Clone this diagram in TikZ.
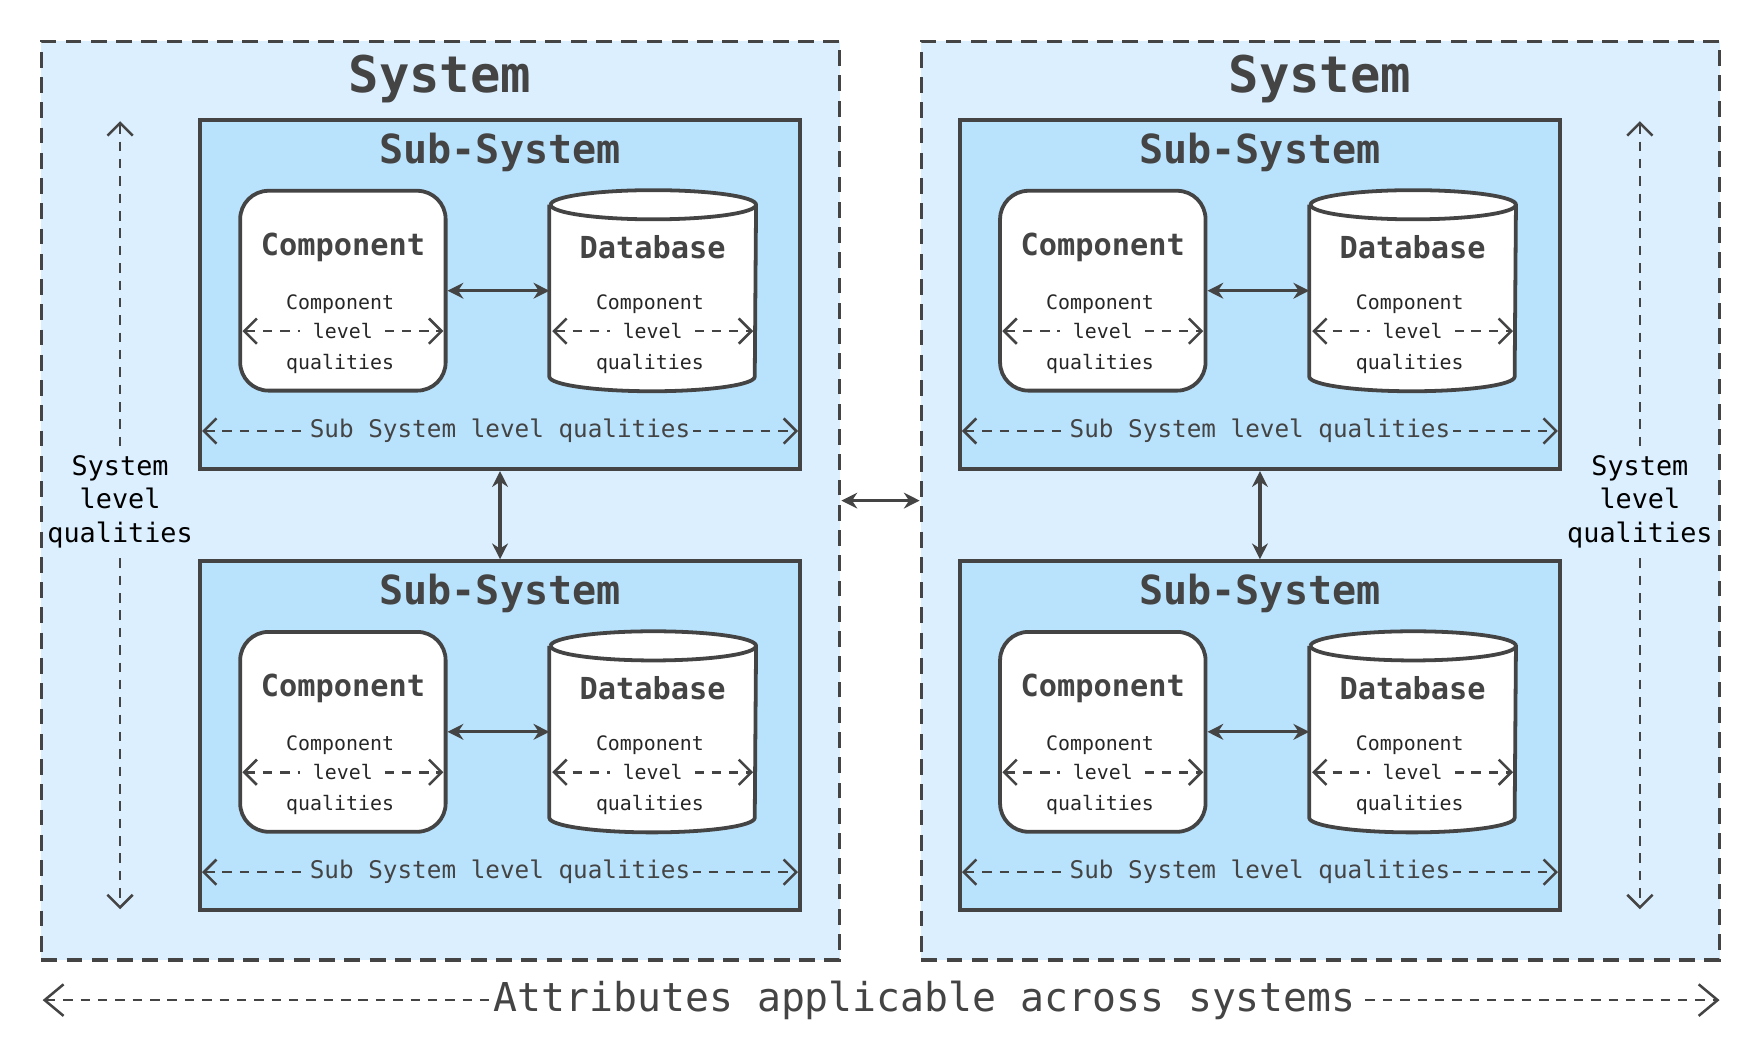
\documentclass[tikz,border=0pt]{standalone}
\usepackage{fontspec}
\setmonofont{DejaVu Sans Mono}
\usetikzlibrary{arrows.meta}
\definecolor{dgray}{HTML}{444444}
\definecolor{sysfill}{HTML}{DCEFFE}
\definecolor{subfill}{HTML}{B9E2FC}
\tikzset{
	sysbox/.style={draw=dgray, dash pattern=on 5pt off 3pt, line width=1.1pt, fill=sysfill,
		minimum width=8.8875cm, minimum height=10.225cm, inner sep=0pt},
	subbox/.style={draw=dgray, line width=1.2pt, fill=subfill,
		minimum width=6.6875cm, minimum height=3.8875cm, inner sep=0pt},
	compbox/.style={draw=dgray, line width=1.2pt, fill=white, rounded corners=9pt,
		minimum width=2.2875cm, minimum height=2.225cm, inner sep=0pt},
	dbbox/.style={minimum width=2.2875cm, minimum height=2.225cm, inner sep=0pt},
	qual/.style={dgray, dash pattern=on 3pt off 2.5pt, line width=0.8pt,
		{Straight Barb[length=4pt,width=8pt]}-{Straight Barb[length=4pt,width=8pt]}},
	link/.style={dgray, line width=1pt, {Stealth[length=5pt,width=5pt]}-{Stealth[length=5pt,width=5pt]}},
	title/.style={text=dgray, font=\ttfamily\bfseries\fontsize{16}{16}\selectfont},
	subtitle/.style={text=dgray, font=\ttfamily\bfseries\fontsize{12.7}{12.7}\selectfont},
	comptitle/.style={text=dgray, font=\ttfamily\bfseries\fontsize{9.6}{9.6}\selectfont},
	small/.style={text=black!85, font=\ttfamily\fontsize{6.3}{6.3}\selectfont, inner sep=1pt},
	mid/.style={text=dgray, font=\ttfamily\fontsize{7.7}{7.7}\selectfont, inner sep=1pt}
}
% Sub-System: #1 Name, #2 x, #3 y (oben links)
\newcommand{\subsys}[3]{
	\node[subbox] (#1) at (#2+267.5, #3+155.5) {};
	\node[subtitle] at (#2+267.5, #3+29) {Sub-System};
	% Component
	\node[compbox] (#1comp) at (#2+127.5, #3+152) {};
	\node[comptitle] at (#2+127.5, #3+113) {Component};
	\node[small] at (#2+125, #3+164) {Component};
	\node[small] at (#2+125, #3+217) {qualities};
	\draw[qual] (#2+38, #3+188) -- node[small, fill=white, inner xsep=4pt] {level} (#2+217, #3+188);
	% Database
	\node[dbbox] (#1db) at (#2+403.5, #3+152) {};
	\draw[draw=dgray, line width=1.2pt, fill=white] ([yshift=-0.1625cm]#1db.north west)
		-- ([yshift=0.1625cm]#1db.south west)
		arc[start angle=180, end angle=0, x radius=91.5, y radius=13]
		-- ([yshift=-0.1625cm]#1db.north east)
		arc[start angle=0, end angle=-180, x radius=91.5, y radius=13];
	\draw[draw=dgray, line width=1.2pt] ([yshift=-0.1625cm]#1db.north east)
		arc[start angle=0, end angle=180, x radius=91.5, y radius=13];
	\node[comptitle] at (#2+403.5, #3+113) {Database};
	\node[small] at (#2+401, #3+164) {Component};
	\node[small] at (#2+401, #3+217) {qualities};
	\draw[qual] (#2+314, #3+188) -- node[small, fill=white, inner xsep=4pt] {level} (#2+493, #3+188);
	\draw[link] (#1comp.east) -- (#1db.west);
	% Sub System Qualitaeten
	\draw[qual] (#2+2, #3+277) -- node[mid, fill=subfill] {Sub System level qualities} (#2+533, #3+277);
}
\begin{document}
\begin{tikzpicture}[x=0.0125cm, y=-0.0125cm]
	\useasboundingbox (0,0) rectangle (1568,927);
	% Systeme
	\node[sysbox] (sysL) at (392.5, 446) {};
	\node[sysbox] (sysR) at (1176.5, 446) {};
	\node[title] at (392, 70) {System};
	\node[title] at (1176, 70) {System};
	% Sub-Systeme
	\subsys{la}{178}{107}
	\subsys{lb}{178}{500}
	\subsys{ra}{855}{107}
	\subsys{rb}{855}{500}
	\draw[link] (la.south) -- (lb.north);
	\draw[link] (ra.south) -- (rb.north);
	\draw[link] (sysL.east) -- (sysR.west);
	% System Qualitaeten
	\draw[qual] (107, 108) -- node[pos=0.483, mid, fill=sysfill, align=center, font=\ttfamily\fontsize{8.5}{10.6}\selectfont, text=black]
		{System\\level\\qualities} (107, 810);
	\draw[qual] (1461, 108) -- node[pos=0.483, mid, fill=sysfill, align=center, font=\ttfamily\fontsize{8.5}{10.6}\selectfont, text=black]
		{System\\level\\qualities} (1461, 810);
	% ueber Systeme hinweg
	\coordinate (acrossL) at (38, 891);
	\coordinate (acrossR) at (1532, 891);
	\draw[qual, {Straight Barb[length=6pt,width=10pt]}-{Straight Barb[length=6pt,width=10pt]}] (acrossL) --
		node[pos=0.526, mid, fill=white, font=\ttfamily\fontsize{12.6}{12.6}\selectfont] {Attributes applicable across systems} (acrossR);
\end{tikzpicture}
\end{document}
